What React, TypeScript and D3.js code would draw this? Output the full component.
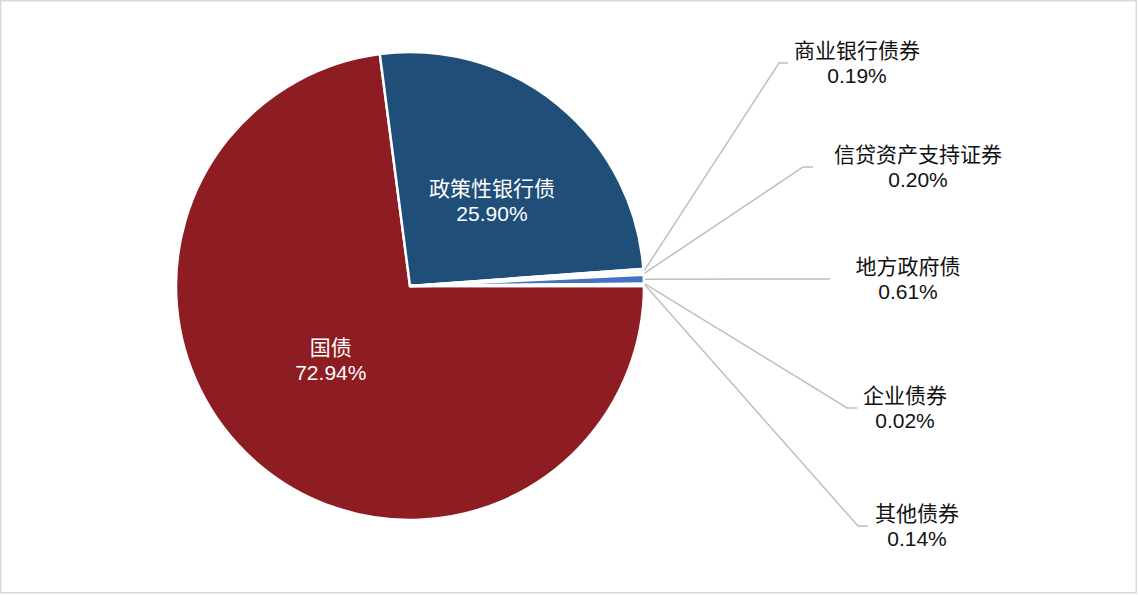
import { useEffect, useRef } from 'react';
import * as d3 from 'd3';

const categories = ['国债', '政策性银行债', '商业银行债券', '信贷资产支持证券', '地方政府债', '企业债券', '其他债券'];
const shares = [72.94, 25.9, 0.19, 0.2, 0.61, 0.02, 0.14];

const sliceColors = ['#8E1C23', '#1F4E79', '#D9D9D9', '#E7E6E6', '#4472C4', '#DDEBF7', '#F2F2F2'];

// label placement: inner ones nudge off the centroid, outer ones sit at the end of an elbow
const innerNudge: Record<number, [number, number]> = { 0: [-2, -19], 1: [8, 1] };
const outerLayout: Record<number, { elbowX: number; elbowY: number; endX: number; textX: number }> = {
  2: { elbowX: 779, elbowY: 63, endX: 788, textX: 857 },
  3: { elbowX: 803, elbowY: 167, endX: 813, textX: 918 },
  4: { elbowX: 820, elbowY: 279, endX: 830, textX: 908 },
  5: { elbowX: 847, elbowY: 408, endX: 857, textX: 905 },
  6: { elbowX: 858, elbowY: 526, endX: 868, textX: 917 }
};

const WIDTH = 1138;
const HEIGHT = 595;
const FONT = '"Liberation Sans", "Noto Sans CJK SC", sans-serif';

const PieChart = () => {
  const ref = useRef<SVGSVGElement | null>(null);

  useEffect(() => {
    if (!ref.current) return;
    const svg = d3.select(ref.current);
    svg.selectAll('*').remove();

    // frame
    svg
      .append('rect')
      .attr('x', 0.75)
      .attr('y', 0.75)
      .attr('width', WIDTH - 2.5)
      .attr('height', HEIGHT - 3)
      .attr('fill', 'white')
      .attr('stroke', '#D9D9D9')
      .attr('stroke-width', 1.5);

    const cx = 410;
    const cy = 286;
    const radius = 234;

    const pie = d3
      .pie<number>()
      .sort(null)
      .value((d) => d)
      .startAngle(Math.PI / 2)
      .endAngle(Math.PI / 2 + Math.PI * 2);
    const arcs = pie(shares);

    const arc = d3.arc<d3.PieArcDatum<number>>().innerRadius(0).outerRadius(radius);

    const g = svg.append('g').attr('transform', `translate(${cx}, ${cy})`);

    g.selectAll('path.slice')
      .data(arcs)
      .enter()
      .append('path')
      .attr('class', 'slice')
      .attr('d', arc)
      .attr('fill', (_, i) => sliceColors[i])
      .attr('stroke', 'white')
      .attr('stroke-width', 2.5)
      .attr('stroke-linejoin', 'miter');

    // inner labels
    arcs.forEach((a, i) => {
      const nudge = innerNudge[i];
      if (!nudge) return;
      const [x, y] = arc.centroid(a);
      const t = g
        .append('text')
        .attr('text-anchor', 'middle')
        .style('font-family', FONT)
        .style('font-size', '21px')
        .style('fill', 'white');
      t.append('tspan').attr('x', x + nudge[0]).attr('y', y + nudge[1]).text(categories[i]);
      t.append('tspan')
        .attr('x', x + nudge[0])
        .attr('y', y + nudge[1] + 25)
        .text(`${shares[i].toFixed(2)}%`);
    });

    // outer labels with leader lines
    arcs.forEach((a, i) => {
      const lay = outerLayout[i];
      if (!lay) return;
      const mid = (a.startAngle + a.endAngle) / 2;
      const sx = cx + (radius + 1) * Math.sin(mid);
      const sy = cy - (radius + 1) * Math.cos(mid);
      const line = d3.line();
      svg
        .append('path')
        .attr(
          'd',
          line([
            [sx, sy],
            [lay.elbowX, lay.elbowY],
            [lay.endX, lay.elbowY]
          ])
        )
        .attr('fill', 'none')
        .attr('stroke', '#BFBFBF')
        .attr('stroke-width', 1.5);

      const t = svg
        .append('text')
        .attr('text-anchor', 'middle')
        .style('font-family', FONT)
        .style('font-size', '21px')
        .style('fill', '#111');
      t.append('tspan').attr('x', lay.textX).attr('y', lay.elbowY - 5).text(categories[i]);
      t.append('tspan')
        .attr('x', lay.textX)
        .attr('y', lay.elbowY + 20)
        .text(`${shares[i].toFixed(2)}%`);
    });
  }, []);

  return <svg ref={ref} width={WIDTH} height={HEIGHT} style={{ display: 'block' }} />;
};

export default function App() {
  useEffect(() => {
    document.body.style.margin = '0';
  }, []);
  return <PieChart />;
}
